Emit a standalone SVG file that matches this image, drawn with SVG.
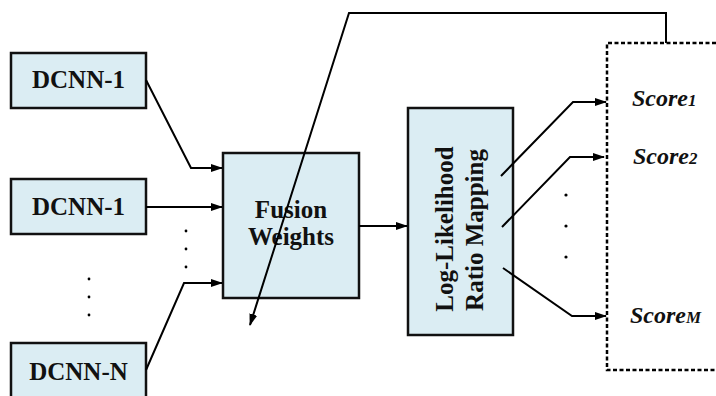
<svg xmlns="http://www.w3.org/2000/svg" width="716" height="396" viewBox="0 0 716 396">
  <style>
    .box { fill: #dbedf3; stroke: #111; stroke-width: 2.5; }
    .lbl { font-family: 'Liberation Serif', Tinos, 'Times New Roman', Times, 'DejaVu Serif', serif; font-weight: 700; font-size: 25px; fill: #111; text-anchor: middle; }
    .score { font-family: 'Liberation Serif', Tinos, 'Times New Roman', Times, 'DejaVu Serif', serif; font-weight: 700; font-style: italic; font-size: 24px; fill: #111; }
    .sub { font-size: 17px; }
    .wire { fill: none; stroke: #000; stroke-width: 2; stroke-linejoin: miter; marker-end: url(#arrow); }
    .dot { fill: #000; }
  </style>
  <defs>
    <marker id="arrow" markerUnits="userSpaceOnUse" markerWidth="12" markerHeight="8" refX="11" refY="4" orient="auto">
      <path d="M0,0 L12,4 L0,8 z" fill="#000"/>
    </marker>
  </defs>

  <rect width="716" height="396" fill="#fff"/>

  <!-- input networks -->
  <g id="dcnn-1a">
    <rect class="box" x="11" y="53" width="135" height="55"/>
    <text class="lbl" x="78.5" y="88">DCNN-1</text>
  </g>
  <g id="dcnn-1b">
    <rect class="box" x="11" y="179" width="135" height="55"/>
    <text class="lbl" x="78.5" y="215">DCNN-1</text>
  </g>
  <g id="dcnn-n">
    <rect class="box" x="11" y="343" width="135" height="70"/>
    <text class="lbl" x="78.5" y="380">DCNN-N</text>
  </g>

  <!-- fusion stage -->
  <g id="fusion">
    <rect class="box" x="223" y="153" width="136" height="145"/>
    <text class="lbl" x="291" y="218">Fusion</text>
    <text class="lbl" x="291" y="245">Weights</text>
  </g>

  <!-- log-likelihood ratio mapping -->
  <g id="llr">
    <rect class="box" x="408" y="108" width="105" height="227"/>
    <text class="lbl" transform="translate(453,229) rotate(-90)">Log-Likelihood</text>
    <text class="lbl" transform="translate(483,230) rotate(-90)">Ratio Mapping</text>
  </g>

  <!-- score outputs -->
  <g id="scores">
    <path d="M716,43 L607,43 L607,370 L716,370" fill="none" stroke="#000" stroke-width="2.5" stroke-dasharray="4 2.5"/>
    <text class="score" x="632" y="106">Score<tspan class="sub">1</tspan></text>
    <text class="score" x="633" y="164">Score<tspan class="sub">2</tspan></text>
    <text class="score" x="630" y="323">Score<tspan class="sub">M</tspan></text>
  </g>

  <!-- ellipses -->
  <g id="ellipses">
    <circle class="dot" cx="186" cy="231" r="1.4"/>
    <circle class="dot" cx="186" cy="249" r="1.4"/>
    <circle class="dot" cx="186" cy="267" r="1.4"/>
    <circle class="dot" cx="89" cy="279" r="1.4"/>
    <circle class="dot" cx="89" cy="297" r="1.4"/>
    <circle class="dot" cx="89" cy="315" r="1.4"/>
    <circle class="dot" cx="566" cy="195" r="1.6"/>
    <circle class="dot" cx="566" cy="226" r="1.6"/>
    <circle class="dot" cx="566" cy="257" r="1.6"/>
  </g>

  <!-- connectors -->
  <g id="connectors">
    <path class="wire" d="M146,80 L191,168 L222,168"/>
    <path class="wire" d="M146,207 L222,207"/>
    <path class="wire" d="M146,370 L184,283 L222,283"/>
    <path class="wire" d="M359,226 L407,226"/>
    <path class="wire" d="M501,176 L573,102 L606,102"/>
    <path class="wire" d="M502,227 L570,157 L604,157"/>
    <path class="wire" d="M503,268 L572,316 L606,316"/>
    <path class="wire" d="M666,43 L666,13 L349,13 L250,325"/>
  </g>
</svg>
